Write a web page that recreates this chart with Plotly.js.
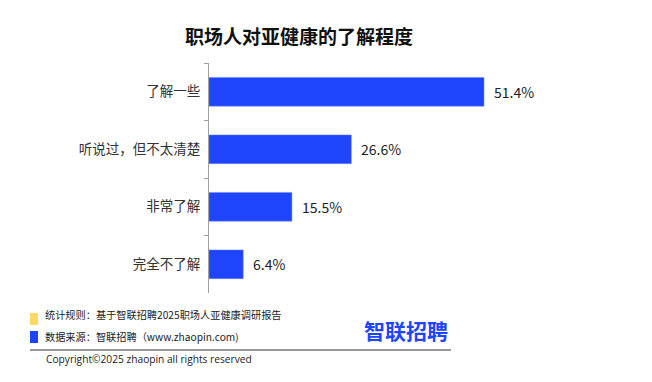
<!DOCTYPE html>
<html><head><meta charset="utf-8">
<script src="https://cdn.plot.ly/plotly-3.0.1.min.js"></script>
<style>html,body{margin:0;padding:0;background:#fff}#c{width:652px;height:382px}</style>
</head><body><div id="c"></div>
<script>
const categories = ["了解一些", "听说过，但不太清楚", "非常了解", "完全不了解"];
const values = [51.4, 26.6, 15.5, 6.4];
const valueLabels = ["51.4%", "26.6%", "15.5%", "6.4%"];
const titleText = "职场人对亚健康的了解程度";
const noteRule = "统计规则：基于智联招聘2025职场人亚健康调研报告";
const noteSource = "数据来源：智联招聘（www.zhaopin.com)";
const copyright = "Copyright©2025 zhaopin all rights reserved";
const logoText = "智联招聘";

const font = "'Noto Sans CJK SC', 'Noto Sans', sans-serif";
const blue = "#1f45fc";

const annotations = values.map((v, i) => ({
  x: v, y: categories[i], xref: "x", yref: "y", text: valueLabels[i],
  xanchor: "left", yanchor: "middle", xshift: 8, showarrow: false,
  font: {family: font, size: 14, color: "#222"}
}));

const paperAnn = (px, py, text, opts) => Object.assign({
  xref: "paper", yref: "paper",
  x: (px - 209) / 351, y: (293 - py) / 230,
  text: text, showarrow: false, xanchor: "left", yanchor: "middle",
  font: {family: font, size: 10.2, color: "#222"}
}, opts || {});

annotations.push(paperAnn(299, 35, titleText, {xanchor: "center", font: {family: font, size: 19, color: "#111", weight: 700}}));
annotations.push(paperAnn(43, 314, noteRule));
annotations.push(paperAnn(43, 336, noteSource));
annotations.push(paperAnn(44, 359, copyright, {font: {family: "'Open Sans', 'Noto Sans', sans-serif", size: 10.2, color: "#222"}}));
annotations.push(paperAnn(362, 330, logoText, {font: {family: font, size: 21, color: blue, weight: 700}}));

const px2x = px => (px - 209) / 351;
const py2y = py => (293 - py) / 230;
const shapes = [
  {type: "rect", xref: "paper", yref: "paper", x0: px2x(30), x1: px2x(38), y0: py2y(325), y1: py2y(313), fillcolor: "#ffd966", line: {width: 0}},
  {type: "rect", xref: "paper", yref: "paper", x0: px2x(30), x1: px2x(38), y0: py2y(343), y1: py2y(331), fillcolor: blue, line: {width: 0}},
  {type: "line", xref: "paper", yref: "paper", x0: px2x(30), x1: px2x(451), y0: py2y(350), y1: py2y(350), line: {color: "#333", width: 1.2}}
];

Plotly.newPlot("c", [{
  type: "bar", orientation: "h", x: values, y: categories,
  marker: {color: blue, line: {color: "#6f86ff", width: 0.5}},
  width: 0.5, hoverinfo: "none"
}], {
  width: 652, height: 382,
  margin: {l: 209, r: 92, t: 63, b: 89},
  paper_bgcolor: "#fff", plot_bgcolor: "#fff",
  showlegend: false,
  xaxis: {range: [0, 65.6], visible: false, fixedrange: true},
  yaxis: {autorange: "reversed", type: "category", showline: true, linecolor: "#a0a0a0", linewidth: 1,
    ticks: "outside", tickson: "boundaries", ticklen: 4, tickcolor: "#a0a0a0",
    ticklabelstandoff: 5,
    showgrid: false, zeroline: false,
    tickfont: {family: font, size: 13.5, color: "#333"}},
  annotations: annotations,
  shapes: shapes
}, {staticPlot: true});
</script></body></html>
